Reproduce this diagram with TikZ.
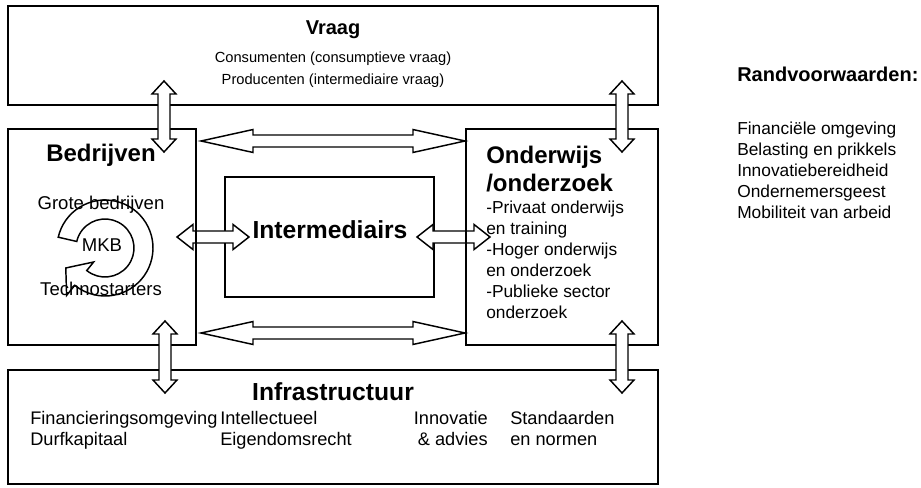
\documentclass[tikz,border=0pt]{standalone}
\usepackage{fontspec}
\setmainfont{Liberation Sans}
\usetikzlibrary{calc,fit}
\tikzset{
  px/.style={x=0.75pt,y=-0.75pt},
  box/.style={draw, line width=1.4pt, inner sep=0pt},
  blockarr/.style={draw, fill=white, line width=1.1pt, line join=miter},
  circarr/.style={draw, fill=white, line width=1.1pt, line join=miter},
  ttl/.style={font=\fontsize{18}{21}\selectfont\bfseries, inner sep=0pt},
  ttlsmall/.style={font=\fontsize{15}{18}\selectfont\bfseries, inner sep=0pt},
  bodytxt/.style={font=\fontsize{13.5}{15.75}\selectfont, inner sep=0pt, align=left},
  smalltxt/.style={font=\fontsize{11}{16.5}\selectfont, inner sep=0pt, align=center},
}
% #1 from, #2 to, #3 shaft half width, #4 head half width, #5 head length
\newcommand\blockarrow[5]{%
  \draw[blockarr]
    (#1)
    -- ($($(#1)!#5!(#2)$)!#4!90:(#2)$)
    -- ($($(#1)!#5!(#2)$)!#3!90:(#2)$)
    -- ($($(#2)!#5!(#1)$)!#3!-90:(#1)$)
    -- ($($(#2)!#5!(#1)$)!#4!-90:(#1)$)
    -- (#2)
    -- ($($(#2)!#5!(#1)$)!#4!90:(#1)$)
    -- ($($(#2)!#5!(#1)$)!#3!90:(#1)$)
    -- ($($(#1)!#5!(#2)$)!#3!-90:(#2)$)
    -- ($($(#1)!#5!(#2)$)!#4!-90:(#2)$)
    -- cycle;
}
\begin{document}
\begin{tikzpicture}[px]
\useasboundingbox (0,0) rectangle (921,488);

% outer boxes
\node[box, fit={(8,6) (658,105)}] (vraag) {};
\node[box, fit={(8,370) (658,484)}] (infra) {};
\node[box, fit={(225,177) (434,297)}] (inter) {};

% middle arrows (behind the side boxes)
\coordinate (ml1) at (177,237);
\coordinate (ml2) at (249,237);
\coordinate (mr1) at (417,237);
\coordinate (mr2) at (490,237);
\blockarrow{ml1}{ml2}{4.5pt}{9.4pt}{12pt}
\blockarrow{mr1}{mr2}{4.5pt}{9.4pt}{12pt}

% side boxes
\node[box, fit={(8,129) (196,345)}] (bedr) {};
\node[box, fit={(466,129) (658,345)}] (onder) {};

% vertical arrows
\coordinate (vl1) at (164,81);
\coordinate (vl2) at (164,152);
\coordinate (vr1) at (622,81);
\coordinate (vr2) at (622,152);
\coordinate (bl1) at (165,321);
\coordinate (bl2) at (165,393);
\coordinate (br1) at (622,321);
\coordinate (br2) at (622,393);
\blockarrow{vl1}{vl2}{4.5pt}{9pt}{9.75pt}
\blockarrow{vr1}{vr2}{4.5pt}{9pt}{9.75pt}
\blockarrow{bl1}{bl2}{4.5pt}{9pt}{9.75pt}
\blockarrow{br1}{br2}{4.5pt}{9pt}{9.75pt}

% long horizontal arrows
\coordinate (ht1) at (201,141);
\coordinate (ht2) at (465,141);
\coordinate (hb1) at (201,333);
\coordinate (hb2) at (465,333);
\blockarrow{ht1}{ht2}{4.5pt}{8.6pt}{39pt}
\blockarrow{hb1}{hb2}{4.5pt}{8.6pt}{39pt}

% circular arrow in Bedrijven
\coordinate (cc) at (105,248);
\draw[circarr]
  ($(cc)+(-167:48)$) arc[start angle=-167, end angle=129, radius=48]
  -- ($(cc)+(129:61)$)
  -- ($(cc)+(153:44)$)
  -- ($(cc)+(129:18)$)
  -- ($(cc)+(129:29)$) arc[start angle=129, end angle=-167, radius=29]
  -- cycle;

% texts
\node[ttlsmall, anchor=base] (tvraag) at (333,35) {Vraag};
\node[smalltxt, anchor=north] (tvraagb) at (333,51.6)
  {Consumenten (consumptieve vraag)\\Producenten (intermediaire vraag)};

\node[ttl, anchor=base] (tbedr) at (101,161.6) {Bedrijven};
\node[bodytxt, font=\fontsize{13.9}{16}\selectfont, anchor=base] (tgrote) at (101,209.7) {Grote bedrijven};
\node[bodytxt, font=\fontsize{13.9}{16}\selectfont, anchor=base] (tmkb) at (102,251.7) {MKB};
\node[bodytxt, font=\fontsize{13.9}{16}\selectfont, anchor=base] (ttechno) at (101,295.7) {Technostarters};

\node[ttl, font=\fontsize{18.5}{21}\selectfont\bfseries, anchor=base] (tinter) at (330,239) {Intermediairs};

\node[ttl, align=left, anchor=north west] (tonder) at (486,146) {Onderwijs\\/onderzoek};
\node[bodytxt, font=\fontsize{13}{15.75}\selectfont, anchor=north west] (tonderb) at (486,200.5)
  {-Privaat onderwijs\\en training\\-Hoger onderwijs\\en onderzoek\\-Publieke sector\\onderzoek};

\node[ttl, font=\fontsize{18.5}{21}\selectfont\bfseries, anchor=base] (tinfra) at (333,400) {Infrastructuur};
\node[bodytxt, font=\fontsize{13.65}{15.75}\selectfont, anchor=north west] (tc1) at (30,411.5)
  {Financieringsomgeving\\Durfkapitaal};
\node[bodytxt, font=\fontsize{13.65}{15.75}\selectfont, anchor=north west] (tc2) at (220,411.5)
  {Intellectueel\\Eigendomsrecht};
\node[bodytxt, font=\fontsize{13.65}{15.75}\selectfont, align=right, anchor=north east] (tc3) at (488,411.5)
  {Innovatie\\\& advies};
\node[bodytxt, font=\fontsize{13.65}{15.75}\selectfont, anchor=north west] (tc4) at (510,411.5)
  {Standaarden\\en normen};

\node[ttlsmall, anchor=base west] (trand) at (737,82) {Randvoorwaarden:};
\node[bodytxt, font=\fontsize{13}{15.75}\selectfont, anchor=north west] (trandb) at (737,121.5)
  {Financiële omgeving\\Belasting en prikkels\\Innovatiebereidheid\\Ondernemersgeest\\Mobiliteit van arbeid};
\end{tikzpicture}
\end{document}
